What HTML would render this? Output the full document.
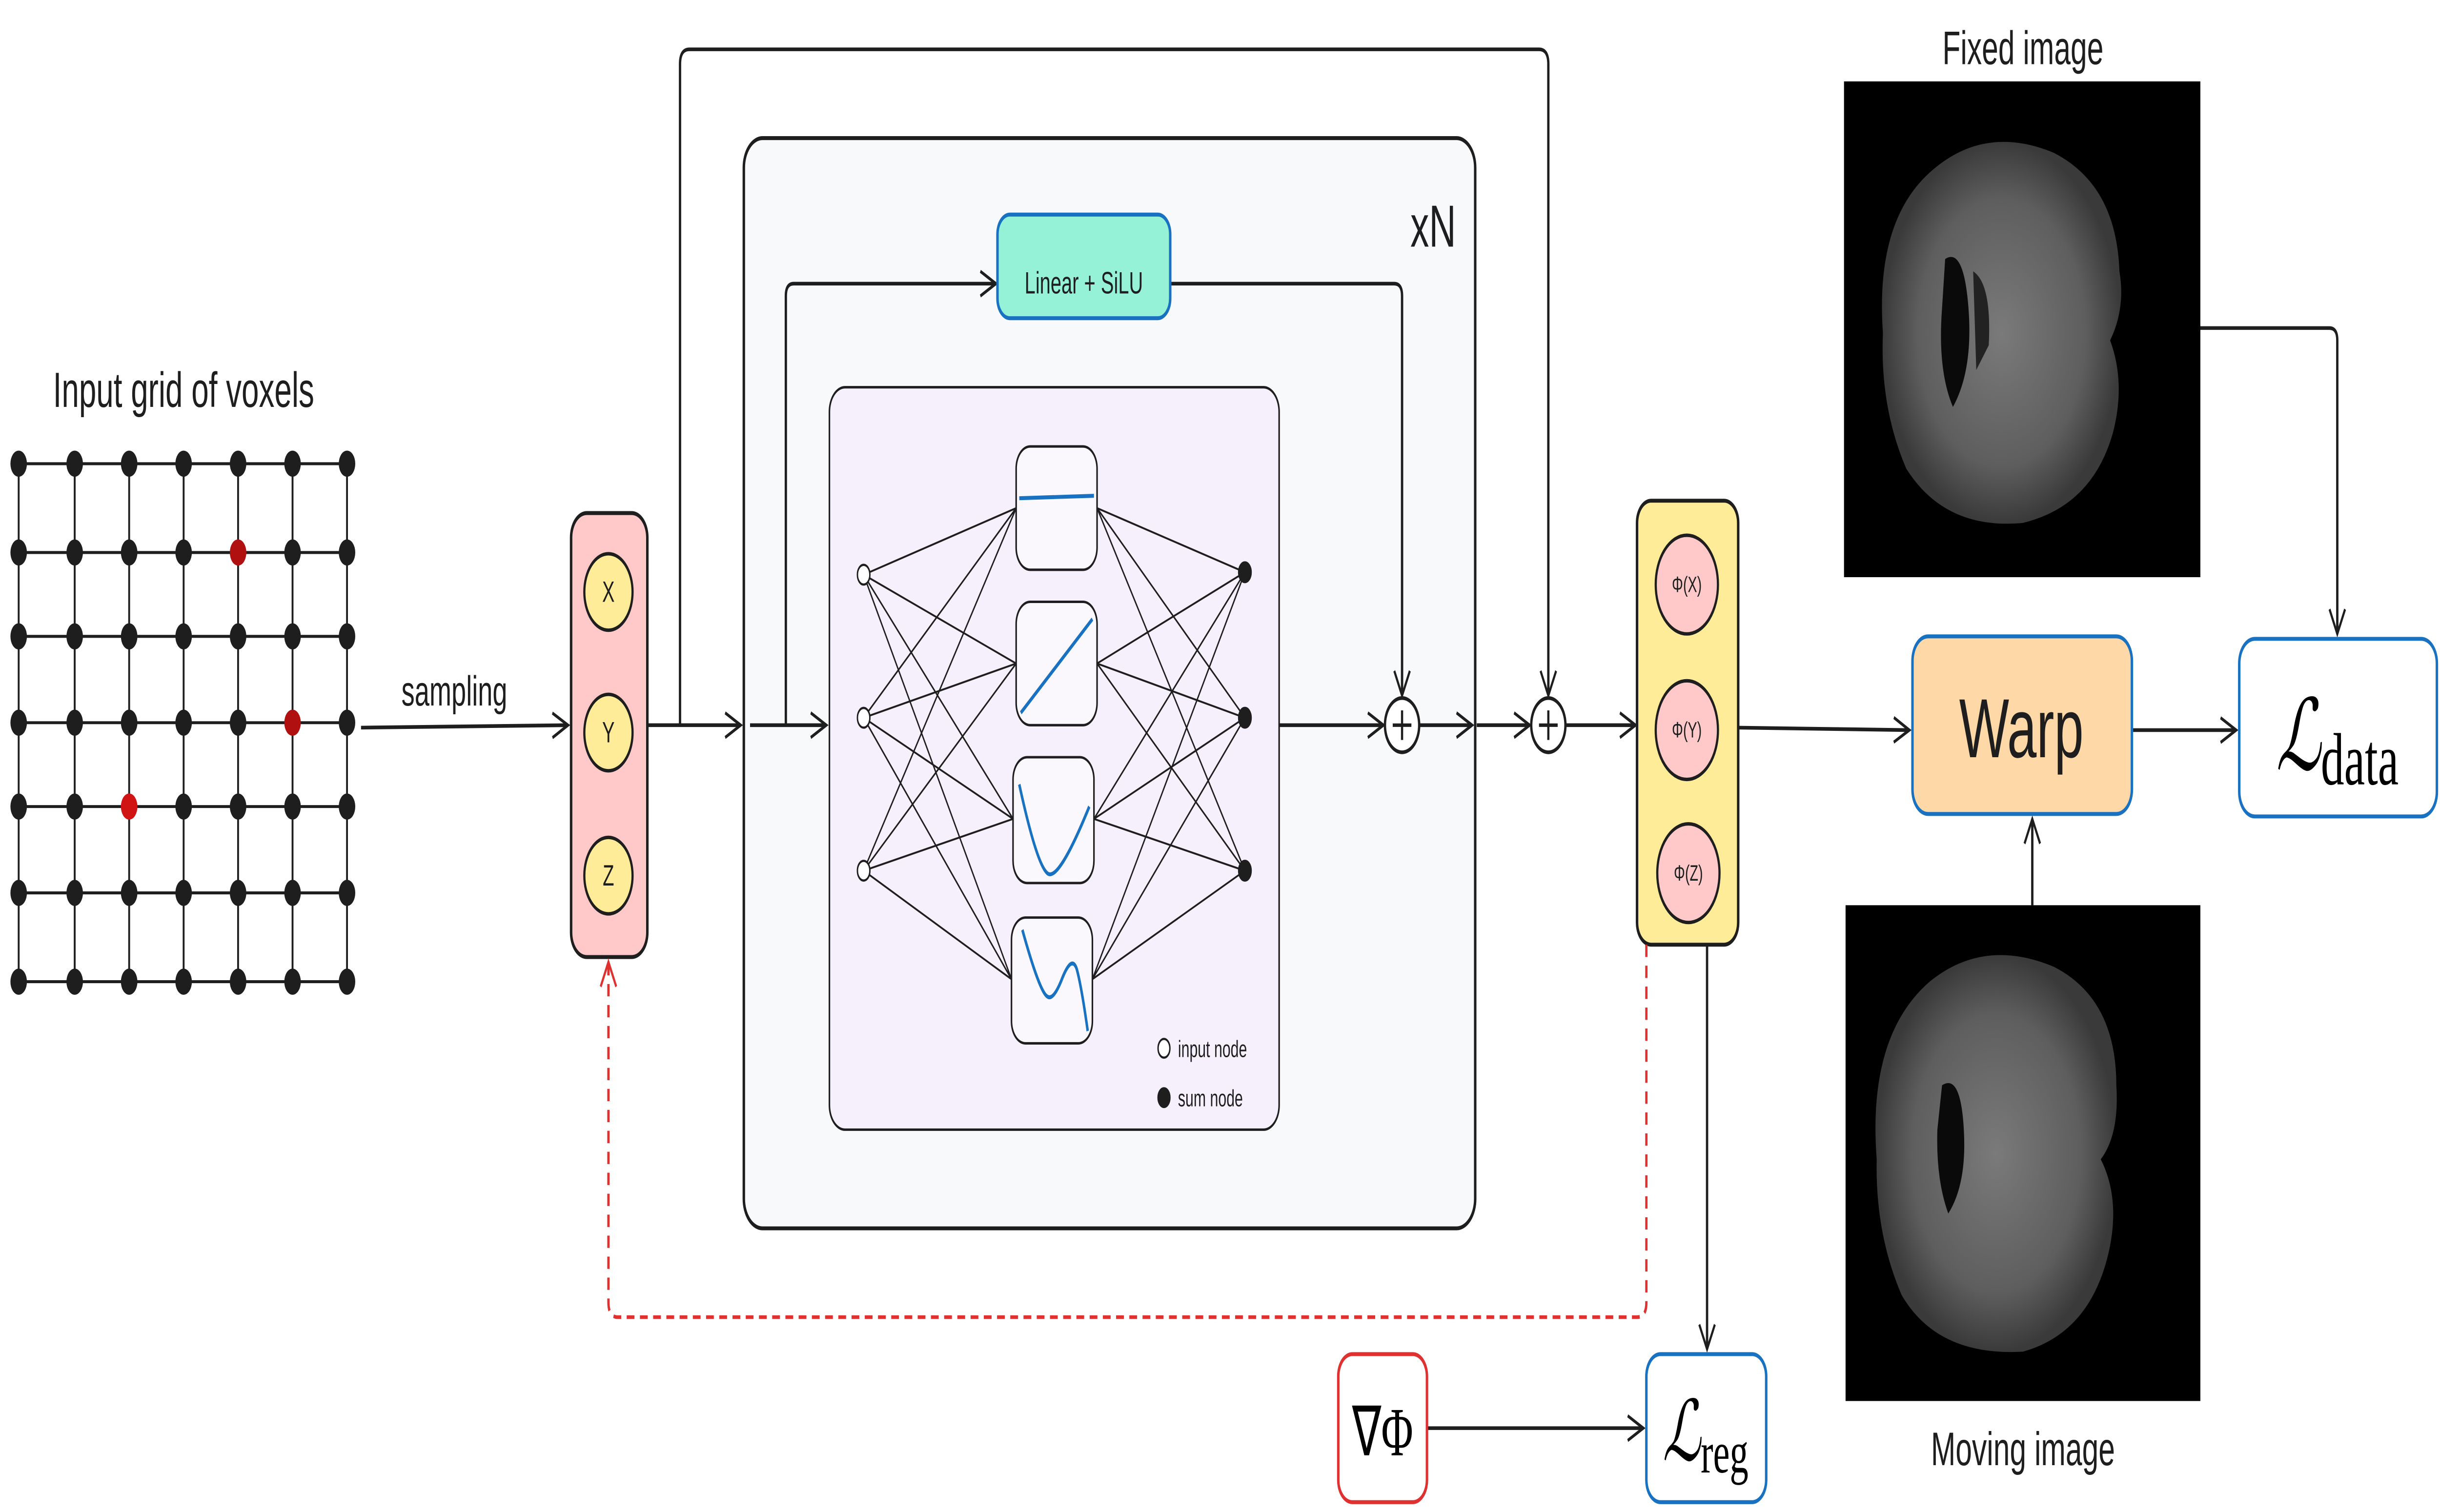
<!DOCTYPE html>
<html><head><meta charset="utf-8"><style>html,body{margin:0;padding:0;background:#fff;overflow:hidden;width:100%;height:100%}svg{display:block;width:100vw;height:100vh}</style></head>
<body>
<svg viewBox="0 0 1568 613" preserveAspectRatio="none" xmlns="http://www.w3.org/2000/svg" font-family="Liberation Sans, sans-serif">
<defs>
<marker id="a" markerUnits="userSpaceOnUse" markerWidth="14" markerHeight="14" refX="11" refY="6" orient="auto"><path d="M1,1 L11,6 L1,11" fill="none" stroke="#1e1e1e" stroke-width="1.3"/></marker>
<marker id="r" markerUnits="userSpaceOnUse" markerWidth="14" markerHeight="14" refX="11" refY="6" orient="auto"><path d="M1,1 L11,6 L1,11" fill="none" stroke="#e03131" stroke-width="1.3"/></marker>
<radialGradient id="br" cx="50%" cy="50%" r="50%"><stop offset="0" stop-color="#7a7a7a"/><stop offset="0.7" stop-color="#5e5e5e"/><stop offset="1" stop-color="#3a3a3a"/></radialGradient>
</defs>

<text x="118" y="165" font-size="20" text-anchor="middle" fill="#1e1e1e">Input grid of voxels</text>
<g stroke="#1e1e1e" stroke-width="1.2">
<line x1="12" y1="188" x2="223" y2="188"/><line x1="12" y1="224" x2="223" y2="224"/><line x1="12" y1="258" x2="223" y2="258"/><line x1="12" y1="293" x2="223" y2="293"/><line x1="12" y1="327" x2="223" y2="327"/><line x1="12" y1="362" x2="223" y2="362"/><line x1="12" y1="398" x2="223" y2="398"/>
<line x1="12" y1="188" x2="12" y2="398"/><line x1="48" y1="188" x2="48" y2="398"/><line x1="83" y1="188" x2="83" y2="398"/><line x1="118" y1="188" x2="118" y2="398"/><line x1="153" y1="188" x2="153" y2="398"/><line x1="188" y1="188" x2="188" y2="398"/><line x1="223" y1="188" x2="223" y2="398"/>
</g>
<g fill="#1e1e1e">
<circle cx="12" cy="188" r="5.3"/><circle cx="48" cy="188" r="5.3"/><circle cx="83" cy="188" r="5.3"/><circle cx="118" cy="188" r="5.3"/><circle cx="153" cy="188" r="5.3"/><circle cx="188" cy="188" r="5.3"/><circle cx="223" cy="188" r="5.3"/>
<circle cx="12" cy="224" r="5.3"/><circle cx="48" cy="224" r="5.3"/><circle cx="83" cy="224" r="5.3"/><circle cx="118" cy="224" r="5.3"/><circle cx="188" cy="224" r="5.3"/><circle cx="223" cy="224" r="5.3"/>
<circle cx="12" cy="258" r="5.3"/><circle cx="48" cy="258" r="5.3"/><circle cx="83" cy="258" r="5.3"/><circle cx="118" cy="258" r="5.3"/><circle cx="153" cy="258" r="5.3"/><circle cx="188" cy="258" r="5.3"/><circle cx="223" cy="258" r="5.3"/>
<circle cx="12" cy="293" r="5.3"/><circle cx="48" cy="293" r="5.3"/><circle cx="83" cy="293" r="5.3"/><circle cx="118" cy="293" r="5.3"/><circle cx="153" cy="293" r="5.3"/><circle cx="223" cy="293" r="5.3"/>
<circle cx="12" cy="327" r="5.3"/><circle cx="48" cy="327" r="5.3"/><circle cx="118" cy="327" r="5.3"/><circle cx="153" cy="327" r="5.3"/><circle cx="188" cy="327" r="5.3"/><circle cx="223" cy="327" r="5.3"/>
<circle cx="12" cy="362" r="5.3"/><circle cx="48" cy="362" r="5.3"/><circle cx="83" cy="362" r="5.3"/><circle cx="118" cy="362" r="5.3"/><circle cx="153" cy="362" r="5.3"/><circle cx="188" cy="362" r="5.3"/><circle cx="223" cy="362" r="5.3"/>
<circle cx="12" cy="398" r="5.3"/><circle cx="48" cy="398" r="5.3"/><circle cx="83" cy="398" r="5.3"/><circle cx="118" cy="398" r="5.3"/><circle cx="153" cy="398" r="5.3"/><circle cx="188" cy="398" r="5.3"/><circle cx="223" cy="398" r="5.3"/>
</g>
<circle cx="153" cy="224" r="5.3" fill="#b01010"/><circle cx="188" cy="293" r="5.3" fill="#b01010"/><circle cx="83" cy="327" r="5.3" fill="#d01414"/>

<g stroke="#1e1e1e" stroke-width="1.5" fill="none">
<line x1="232" y1="295" x2="365" y2="294" marker-end="url(#a)"/>
</g>
<text x="292" y="286" font-size="17" text-anchor="middle" fill="#1e1e1e">sampling</text>

<rect x="367" y="208" width="49" height="180" rx="10" fill="#ffc9c9" stroke="#1e1e1e" stroke-width="1.6"/>
<g fill="#ffec99" stroke="#1e1e1e" stroke-width="1.4">
<circle cx="391" cy="240" r="15.5"/><circle cx="391" cy="297" r="15.5"/><circle cx="391" cy="355" r="15.5"/>
</g>
<g font-size="12" text-anchor="middle" fill="#1e1e1e"><text x="391" y="244">X</text><text x="391" y="301">Y</text><text x="391" y="359">Z</text></g>

<g stroke="#1e1e1e" stroke-width="1.5" fill="none">
<line x1="416" y1="294" x2="476" y2="294" marker-end="url(#a)"/>
<path d="M437,294 V26 Q437,20 443,20 H989 Q995,20 995,26 V282" marker-end="url(#a)"/>
</g>

<rect x="478" y="56" width="470" height="442" rx="12" fill="#f8f9fa" stroke="#1e1e1e" stroke-width="1.6"/>
<text x="921" y="100" font-size="24" text-anchor="middle" fill="#1e1e1e">xN</text>
<g stroke="#1e1e1e" stroke-width="1.5" fill="none">
<line x1="482" y1="294" x2="531" y2="294" marker-end="url(#a)"/>
<path d="M505,294 V120 Q505,115 510,115 H640" marker-end="url(#a)"/>
<path d="M752,115 H896 Q901,115 901,120 V282" marker-end="url(#a)"/>
<line x1="822" y1="294" x2="889" y2="294" marker-end="url(#a)"/>
<line x1="912" y1="294" x2="946" y2="294" marker-end="url(#a)"/>
<line x1="949" y1="294" x2="983" y2="294" marker-end="url(#a)"/>
<line x1="1006" y1="294" x2="1051" y2="294" marker-end="url(#a)"/>
</g>
<rect x="641" y="87" width="111" height="42" rx="8" fill="#96f2d7" stroke="#1971c2" stroke-width="1.6"/>
<text x="696.5" y="119" font-size="12.5" text-anchor="middle" fill="#1e1e1e">Linear + SiLU</text>
<circle cx="901" cy="294" r="11" fill="#fff" stroke="#1e1e1e" stroke-width="1.5"/>
<path d="M895,294 H907 M901,288 V300" stroke="#1e1e1e" stroke-width="1.4"/>
<circle cx="995" cy="294" r="11" fill="#fff" stroke="#1e1e1e" stroke-width="1.5"/>
<path d="M989,294 H1001 M995,288 V300" stroke="#1e1e1e" stroke-width="1.4"/>

<rect x="533" y="157" width="289" height="301" rx="10" fill="#f5f0fb" stroke="#1e1e1e" stroke-width="1"/>
<g stroke="#1e1e1e" stroke-width="0.8">
<path d="M555,233 L653,206 M555,233 L653,269 M555,233 L651,332 M555,233 L650,397
M555,291 L653,206 M555,291 L653,269 M555,291 L651,332 M555,291 L650,397
M555,353 L653,206 M555,353 L653,269 M555,353 L651,332 M555,353 L650,397
M705,206 L800,232 M705,206 L800,291 M705,206 L800,353
M705,269 L800,232 M705,269 L800,291 M705,269 L800,353
M703,332 L800,232 M703,332 L800,291 M703,332 L800,353
M702,397 L800,232 M702,397 L800,291 M702,397 L800,353"/>
</g>
<g fill="#fbf8fd" stroke="#1e1e1e" stroke-width="1">
<rect x="653" y="181" width="52" height="50" rx="9"/>
<rect x="653" y="244" width="52" height="50" rx="9"/>
<rect x="651" y="307" width="52" height="51" rx="9"/>
<rect x="650" y="372" width="52" height="51" rx="9"/>
</g>
<g stroke="#1971c2" stroke-width="1.6" fill="none">
<path d="M655,202 L703,201"/>
<path d="M656,289 L702,251"/>
<path d="M655,318 Q666,350 673,354 Q680,358 700,327"/>
<path d="M657,377 Q668,402 673,404 Q677,406 683,396 Q689,387 692,393 Q695,400 699,418"/>
</g>
<g stroke="#1e1e1e" stroke-width="0.9">
<circle cx="555" cy="233" r="4" fill="#fff"/><circle cx="555" cy="291" r="4" fill="#fff"/><circle cx="555" cy="353" r="4" fill="#fff"/>
<circle cx="800" cy="232" r="4" fill="#1e1e1e"/><circle cx="800" cy="291" r="4" fill="#1e1e1e"/><circle cx="800" cy="353" r="4" fill="#1e1e1e"/>
<circle cx="748" cy="425" r="3.8" fill="#fff"/><circle cx="748" cy="445" r="3.8" fill="#1e1e1e"/>
</g>
<g font-size="9.5" fill="#1e1e1e"><text x="757" y="428.5">input node</text><text x="757" y="448.5">sum node</text></g>

<rect x="1052" y="203" width="65" height="180" rx="9" fill="#ffec99" stroke="#1e1e1e" stroke-width="1.6"/>
<g fill="#ffc9c9" stroke="#1e1e1e" stroke-width="1.4">
<circle cx="1084" cy="237" r="20"/><circle cx="1084" cy="296" r="20"/><circle cx="1085" cy="354" r="20"/>
</g>
<g font-size="9" text-anchor="middle" fill="#1e1e1e"><text x="1084" y="240">Φ(X)</text><text x="1084" y="299">Φ(Y)</text><text x="1085" y="357">Φ(Z)</text></g>

<g stroke="#1e1e1e" stroke-width="1.5" fill="none">
<line x1="1117" y1="295" x2="1227" y2="296" marker-end="url(#a)"/>
<line x1="1370" y1="296" x2="1437" y2="296" marker-end="url(#a)"/>
<path d="M1414,133 H1497 Q1502,133 1502,138 V257" marker-end="url(#a)"/>
<line x1="1306" y1="367" x2="1306" y2="332" marker-end="url(#a)"/>
<line x1="1097" y1="383" x2="1097" y2="547" marker-end="url(#a)"/>
<line x1="917" y1="579" x2="1056" y2="579" marker-end="url(#a)"/>
</g>
<path d="M1058,383 V528 Q1058,534 1052,534 H397 Q391,534 391,528 V390" fill="none" stroke="#e03131" stroke-width="1.5" stroke-dasharray="5,3.5" marker-end="url(#r)"/>

<rect x="1229" y="258" width="141" height="72" rx="10" fill="#ffd8a8" stroke="#1971c2" stroke-width="1.6"/>
<text x="1299" y="307" font-size="34" text-anchor="middle" fill="#1e1e1e">Warp</text>
<rect x="1439" y="259" width="127" height="72" rx="10" fill="#fff" stroke="#1971c2" stroke-width="1.6"/>
<text x="1502" y="312" font-size="40" text-anchor="middle" font-family="Liberation Serif, serif" fill="#000"><tspan font-style="italic">ℒ</tspan><tspan font-size="30" dy="6">data</tspan></text>
<rect x="1058" y="549" width="77" height="60" rx="9" fill="#fff" stroke="#1971c2" stroke-width="1.6"/>
<text x="1096" y="592" font-size="34" text-anchor="middle" font-family="Liberation Serif, serif" fill="#000"><tspan font-style="italic">ℒ</tspan><tspan font-size="24" dy="5">reg</tspan></text>
<rect x="860" y="549" width="57" height="60" rx="9" fill="#fff" stroke="#e03131" stroke-width="1.6"/>
<text x="888.5" y="590" font-size="28" text-anchor="middle" font-family="Liberation Serif, serif" fill="#000">∇Φ</text>

<text x="1300" y="26" font-size="19" text-anchor="middle" fill="#1e1e1e">Fixed image</text>
<rect x="1185" y="33" width="229" height="201" fill="#000"/>
<path d="M1210,135 Q1205,90 1240,70 Q1275,50 1320,62 Q1360,75 1362,110 Q1366,125 1356,138 Q1366,155 1358,175 Q1345,205 1300,212 Q1250,215 1225,190 Q1208,165 1210,135 Z" fill="url(#br)"/>
<path d="M1250,105 Q1262,100 1265,125 Q1268,150 1255,165 Q1245,150 1248,125 Z" fill="#0a0a0a"/>
<path d="M1268,110 Q1280,115 1278,140 L1270,150 Z" fill="#222"/>
<rect x="1186" y="367" width="228" height="201" fill="#000"/>
<path d="M1206,470 Q1200,420 1240,398 Q1275,380 1320,392 Q1360,405 1360,440 Q1362,460 1350,470 Q1362,485 1356,505 Q1345,540 1300,548 Q1245,550 1222,525 Q1205,500 1206,470 Z" fill="url(#br)"/>
<path d="M1248,440 Q1260,435 1262,458 Q1264,480 1252,492 Q1244,478 1245,458 Z" fill="#0a0a0a"/>
<text x="1300" y="594" font-size="19" text-anchor="middle" fill="#1e1e1e">Moving image</text>
</svg>
</body></html>
